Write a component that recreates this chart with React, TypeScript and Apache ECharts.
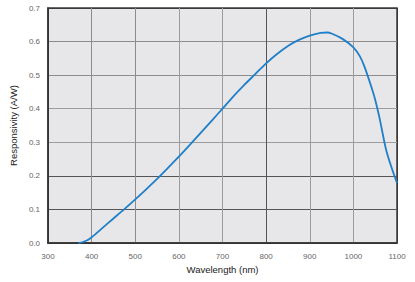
import React, { useEffect, useRef } from "react";
import * as echarts from "echarts";

const wavelengths = [
  370, 380, 390, 400, 425, 450, 475, 500, 525, 550, 575, 600, 625, 650, 675,
  700, 725, 750, 775, 800, 825, 850, 875, 900, 925, 940, 950, 975, 1000, 1015,
  1025, 1040, 1050, 1060, 1075, 1090, 1100,
];
const responsivity = [
  0.0, 0.003, 0.008, 0.017, 0.045, 0.073, 0.101, 0.13, 0.16, 0.191, 0.224,
  0.257, 0.292, 0.328, 0.364, 0.4, 0.437, 0.471, 0.503, 0.535, 0.563, 0.587,
  0.605, 0.618, 0.626, 0.627, 0.624, 0.608, 0.583, 0.556, 0.527, 0.47, 0.427,
  0.372, 0.278, 0.215, 0.179,
];
const xMin = 300;
const xMax = 1100;
const xStep = 100;
const yMin = 0;
const yMax = 0.7;
const yStep = 0.1;
const xTitle = "Wavelength (nm)";
const yTitle = "Responsivity (A/W)";

export default function App() {
  const ref = useRef<HTMLDivElement>(null);
  useEffect(() => {
    if (!ref.current) return;
    const chart = echarts.init(ref.current, null, { renderer: "svg" });
    const font = "'Liberation Sans', Arial, Helvetica, sans-serif";
    chart.setOption({
      animation: false,
      grid: {
        left: 43,
        right: 18,
        top: 8,
        bottom: 39,
        show: true,
        backgroundColor: "#e7e7e9",
        borderColor: "#3a3a3a",
        borderWidth: 1.5,
      },
      xAxis: {
        type: "value",
        min: xMin,
        max: xMax,
        interval: xStep,
        name: xTitle,
        nameLocation: "middle",
        nameGap: 21,
        nameTextStyle: { fontFamily: font, fontSize: 9.5, color: "#222" },
        axisLine: { show: true, lineStyle: { color: "#333", width: 1.5 } },
        axisTick: { show: false },
        axisLabel: {
          fontFamily: font,
          fontSize: 8,
          color: "#666",
          margin: 9,
          alignMinLabel: "center",
          alignMaxLabel: "center",
          formatter: (v: number) => String(v),
        },
        splitLine: {
          show: true,
          lineStyle: {
            color: ["#3a3a3a", "#8c8c8c", "#8c8c8c", "#9c9c9c", "#9c9c9c", "#555", "#9c9c9c", "#9c9c9c", "#3a3a3a"],
            width: 1,
          },
        },
      },
      yAxis: {
        type: "value",
        min: yMin,
        max: yMax,
        interval: yStep,
        name: yTitle,
        nameLocation: "middle",
        nameGap: 27,
        nameTextStyle: { fontFamily: font, fontSize: 9.5, color: "#222" },
        axisLine: { show: true, lineStyle: { color: "#333", width: 1.5 } },
        axisTick: { show: false },
        axisLabel: {
          fontFamily: font,
          fontSize: 8,
          color: "#666",
          margin: 8,
          formatter: (v: number) => v.toFixed(1),
        },
        splitLine: {
          show: true,
          lineStyle: {
            color: ["#3a3a3a", "#555", "#555", "#9c9c9c", "#9c9c9c", "#8c8c8c", "#8c8c8c", "#3a3a3a"],
            width: 1,
          },
        },
      },
      series: [
        {
          type: "line",
          data: wavelengths.map((w, i) => [w, responsivity[i]]),
          smooth: 0.3,
          showSymbol: false,
          symbol: "none",
          lineStyle: { color: "#1f7fc8", width: 1.8 },
        },
      ],
    });
    return () => chart.dispose();
  }, []);
  return (
    <div
      ref={ref}
      style={{ position: "fixed", left: 0, top: 0, width: 415, height: 282, background: "#fff" }}
    />
  );
}
